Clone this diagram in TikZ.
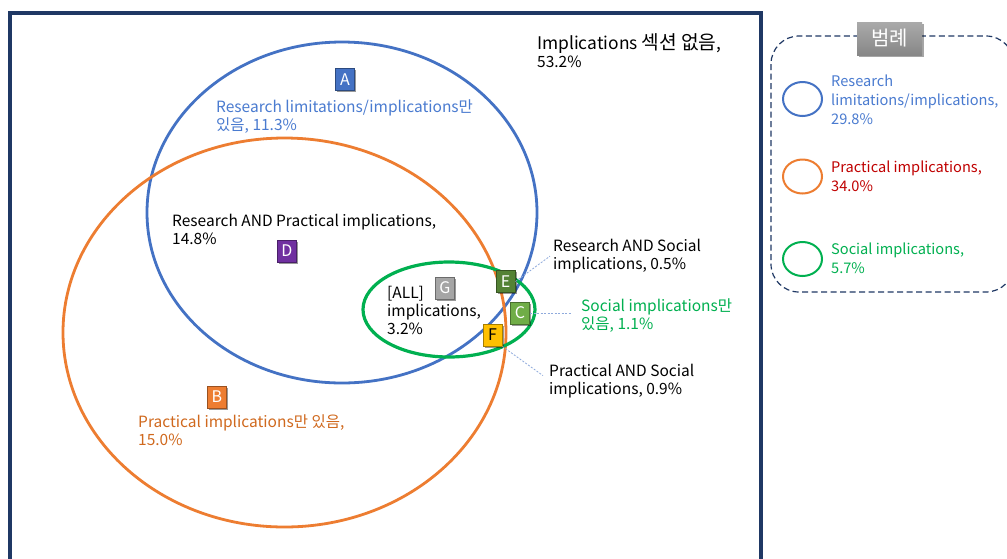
\documentclass[tikz,border=0pt]{standalone}
\usepackage{fontspec}
\setmainfont{Noto Sans CJK KR}
\usetikzlibrary{shadows}
\definecolor{navy}{HTML}{1F3864}
\definecolor{cblue}{HTML}{4472C4}
\definecolor{tblue}{HTML}{4A7BD0}
\definecolor{corange}{HTML}{ED7D31}
\definecolor{torange}{HTML}{D0691E}
\definecolor{cgreen}{HTML}{00B050}
\definecolor{tgreen}{HTML}{00B050}
\definecolor{tred}{HTML}{C00000}
\definecolor{connc}{HTML}{8FAADC}
\definecolor{bpurple}{HTML}{7030A0}
\definecolor{bgray}{HTML}{A5A5A5}
\definecolor{bdgreen}{HTML}{548235}
\definecolor{blgreen}{HTML}{70AD47}
\definecolor{bgold}{HTML}{FFC000}
\definecolor{lgtop}{HTML}{AAAAAA}
\definecolor{lgbot}{HTML}{878787}
\tikzset{
  lbox/.style={draw=#1!65!black, fill=#1, text=white, minimum width=19pt, minimum height=22pt,
    inner sep=0pt, line width=1pt, font=\fontsize{16}{16}\selectfont,
    drop shadow={shadow xshift=1.6pt, shadow yshift=-1.6pt, opacity=0.4, fill=black}},
  lbl/.style={anchor=base west, align=left, inner sep=0pt, font=\fontsize{15.5}{18}\selectfont},
  leg/.style={anchor=base west, align=left, inner sep=0pt, font=\fontsize{14.6}{19}\selectfont},
  conn/.style={connc, line width=0.8pt, dash pattern=on 2pt off 1.5pt},
  venn/.style={line width=2.8pt}
}
\begin{document}
\begin{tikzpicture}[x=1pt,y=-1pt]
\useasboundingbox (0,0) rectangle (1007,558);
\fill[white] (0,0) rectangle (1007,558);
\begin{scope}
\clip (0,0) rectangle (1007,558);
\draw[navy, line width=3.5pt] (10,13) rectangle (761,600);
% legend frame
\draw[navy, line width=1.2pt, dash pattern=on 6pt off 3.5pt, rounded corners=28pt] (771,36) rectangle (1014,292);
\end{scope}

% Venn ellipses
\draw[venn, cblue] (342,212.5) ellipse [x radius=195pt, y radius=170.5pt];
\draw[venn, corange] (284.5,332.5) ellipse [x radius=221.5pt, y radius=194.5pt];
\draw[venn, cgreen, line width=3.2pt] (449,309.5) ellipse [x radius=86pt, y radius=47.5pt];

% labels (anchor = baseline of the last line)
\node[lbl] (implT) at (537,67) {\fontsize{17.4}{20}\selectfont Implications {\fontsize{19.2}{20}\selectfont 섹션 없음},\\53.2\%};
\node[lbl, text=tblue] (aT) at (216,130) {Research limitations/implications만\\있음, 11.3\%};
\node[lbl] (dT) at (172,244) {Research AND Practical implications,\\14.8\%};
\node[lbl] (allT) at (387,334.5) {[ALL]\\implications,\\3.2\%};
\node[lbl] (rasT) at (553,269.5) {Research AND Social\\implications, 0.5\%};
\node[lbl, text=tgreen] (scT) at (581,329.5) {Social implications만\\있음, 1.1\%};
\node[lbl] (pasT) at (549,394) {Practical AND Social\\implications, 0.9\%};
\node[lbl, text=torange] (bT) at (138,445.5) {Practical implications만 있음,\\15.0\%};

% letter boxes
\node[lbox=cblue] (A) at (345,79.5) {A};
\node[lbox=bpurple] (D) at (287,251) {D};
\node[lbox=corange] (B) at (217,397) {B};
\node[lbox=bgray] (G) at (445,288) {G};
\node[lbox=bdgreen] (E) at (505.5,281.5) {E};
\node[lbox=blgreen] (C) at (520,313) {C};
\node[lbox=bgold, text=black] (F) at (492.5,335) {F};

% connectors
\draw[conn] (E.east) -- ([xshift=-3pt]rasT.west);
\draw[conn] (C.east) -- ([xshift=-10pt]C.east -| scT.west);
\draw[conn] (F.south east) -- ([xshift=-6pt, yshift=5pt]pasT.west);

% legend
\node[top color=lgtop, bottom color=lgbot,
  text=white, minimum width=65pt, minimum height=33pt, inner sep=0pt, font=\fontsize{20}{20}\selectfont,
  drop shadow={shadow xshift=1.6pt, shadow yshift=-1.6pt, opacity=0.35, fill=black}] (legT) at (889.5,38.5) {범례};
\draw[cblue, line width=2pt] (802.5,99) ellipse [x radius=19.5pt, y radius=17pt];
\draw[corange, line width=2pt] (802.5,176.5) ellipse [x radius=19.5pt, y radius=17pt];
\draw[cgreen, line width=2pt] (802.5,259) ellipse [x radius=19.5pt, y radius=17pt];
\node[leg, text=tblue] (l1) at (831,124) {Research\\limitations/implications,\\29.8\%};
\node[leg, text=tred] (l2) at (831,191) {Practical implications,\\34.0\%};
\node[leg, text=tgreen] (l3) at (831,273.5) {Social implications,\\5.7\%};
\end{tikzpicture}
\end{document}
